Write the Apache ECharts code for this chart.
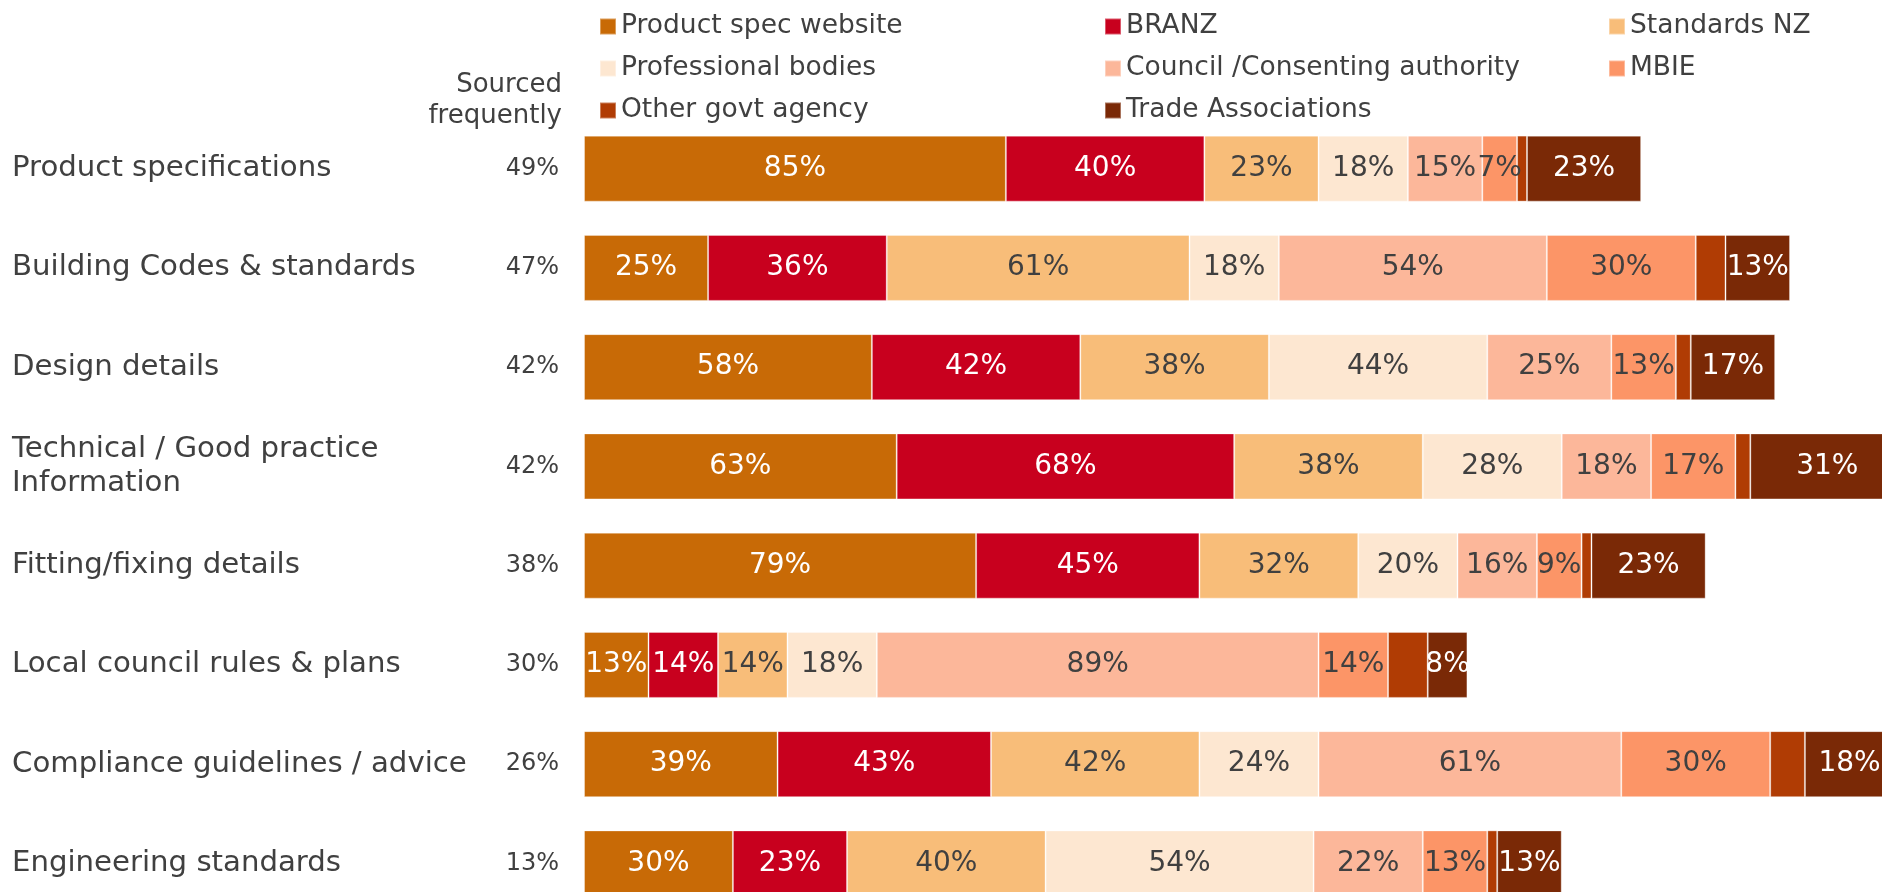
<!DOCTYPE html>
<html>
<head>
<meta charset="utf-8">
<script src="https://cdn.jsdelivr.net/npm/echarts@6/dist/echarts.min.js"></script>
<style>
  html, body { margin: 0; padding: 0; background: #fff; }
  #chart { width: 1882px; height: 892px; }
</style>
</head>
<body>
<div id="chart"></div>
<script>
// categories (top to bottom)
var categories = [
  'Product specifications',
  'Building Codes & standards',
  'Design details',
  'Technical / Good practice\nInformation',
  'Fitting/fixing details',
  'Local council rules & plans',
  'Compliance guidelines / advice',
  'Engineering standards'
];
// share who source the info frequently
var sourced = [49, 47, 42, 42, 38, 30, 26, 13];

// sources (% per category)
var productSpec  = [85, 25, 58, 63, 79, 13, 39, 30];
var branz        = [40, 36, 42, 68, 45, 14, 43, 23];
var standardsNZ  = [23, 61, 38, 38, 32, 14, 42, 40];
var professional = [18, 18, 44, 28, 20, 18, 24, 54];
var council      = [15, 54, 25, 18, 16, 89, 61, 22];
var mbie         = [7, 30, 13, 17, 9, 14, 30, 13];
var otherGovt    = [2, 6, 3, 3, 2, 8, 7, 2];
var trade        = [23, 13, 17, 31, 23, 8, 18, 13];

var FONT = 'DejaVu Sans';
var DARK = '#404040';

var chart = echarts.init(document.getElementById('chart'));

// one stacked segment
function seg(name, data, color, labelColor, showLabel) {
  return {
    name: name,
    type: 'bar',
    stack: 'all',
    barWidth: 66,
    data: data,
    itemStyle: { color: color, borderColor: 'rgba(255,255,255,0.35)', borderWidth: 1 },
    label: {
      show: showLabel,
      position: 'inside',
      formatter: '{c}%',
      color: labelColor,
      fontFamily: FONT,
      fontSize: 28
    },
    emphasis: { disabled: true }
  };
}

function legend(left, names) {
  return {
    orient: 'vertical',
    left: left,
    top: 8,
    itemWidth: 16,
    itemHeight: 16,
    itemGap: 15,
    icon: 'rect',
    selectedMode: false,
    data: names,
    textStyle: { color: DARK, fontFamily: FONT, fontSize: 26.5, lineHeight: 27 }
  };
}

var option = {
  animation: false,
  legend: [
    legend(594, ['Product spec website', 'Professional bodies', 'Other govt agency']),
    legend(1099, ['BRANZ', 'Council /Consenting authority', 'Trade Associations']),
    legend(1603, ['Standards NZ', 'MBIE'])
  ],
  grid: { left: 584, top: 119, width: 1479, height: 794, outerBoundsMode: 'none' },
  xAxis: { type: 'value', min: 0, max: 298, show: false },
  yAxis: [
    {
      type: 'category',
      data: categories,
      inverse: true,
      axisLine: { show: false },
      axisTick: { show: false },
      axisLabel: {
        align: 'left',
        margin: 572,
        color: DARK,
        fontFamily: FONT,
        fontSize: 29.2,
        lineHeight: 34
      }
    },
    {
      type: 'category',
      data: categories,
      inverse: true,
      position: 'left',
      axisLine: { show: false },
      axisTick: { show: false },
      axisLabel: {
        margin: 25,
        color: DARK,
        fontFamily: FONT,
        fontSize: 24,
        formatter: function (v, i) { return sourced[i] + '%'; }
      }
    }
  ],
  graphic: [{
    type: 'text',
    x: 562,
    y: 70,
    style: {
      text: 'Sourced\nfrequently',
      align: 'right',
      verticalAlign: 'top',
      fill: DARK,
      font: '26px "DejaVu Sans"',
      lineHeight: 31
    }
  }],
  series: [
    seg('Product spec website', productSpec, '#C86A06', '#fff', true),
    seg('BRANZ', branz, '#C8001E', '#fff', true),
    seg('Standards NZ', standardsNZ, '#F8BD79', DARK, true),
    seg('Professional bodies', professional, '#FDE7D1', DARK, true),
    seg('Council /Consenting authority', council, '#FCB79A', DARK, true),
    seg('MBIE', mbie, '#FC9567', DARK, true),
    seg('Other govt agency', otherGovt, '#B03C04', '#fff', false),
    seg('Trade Associations', trade, '#7A2906', '#fff', true)
  ]
};

chart.setOption(option);
</script>
</body>
</html>
